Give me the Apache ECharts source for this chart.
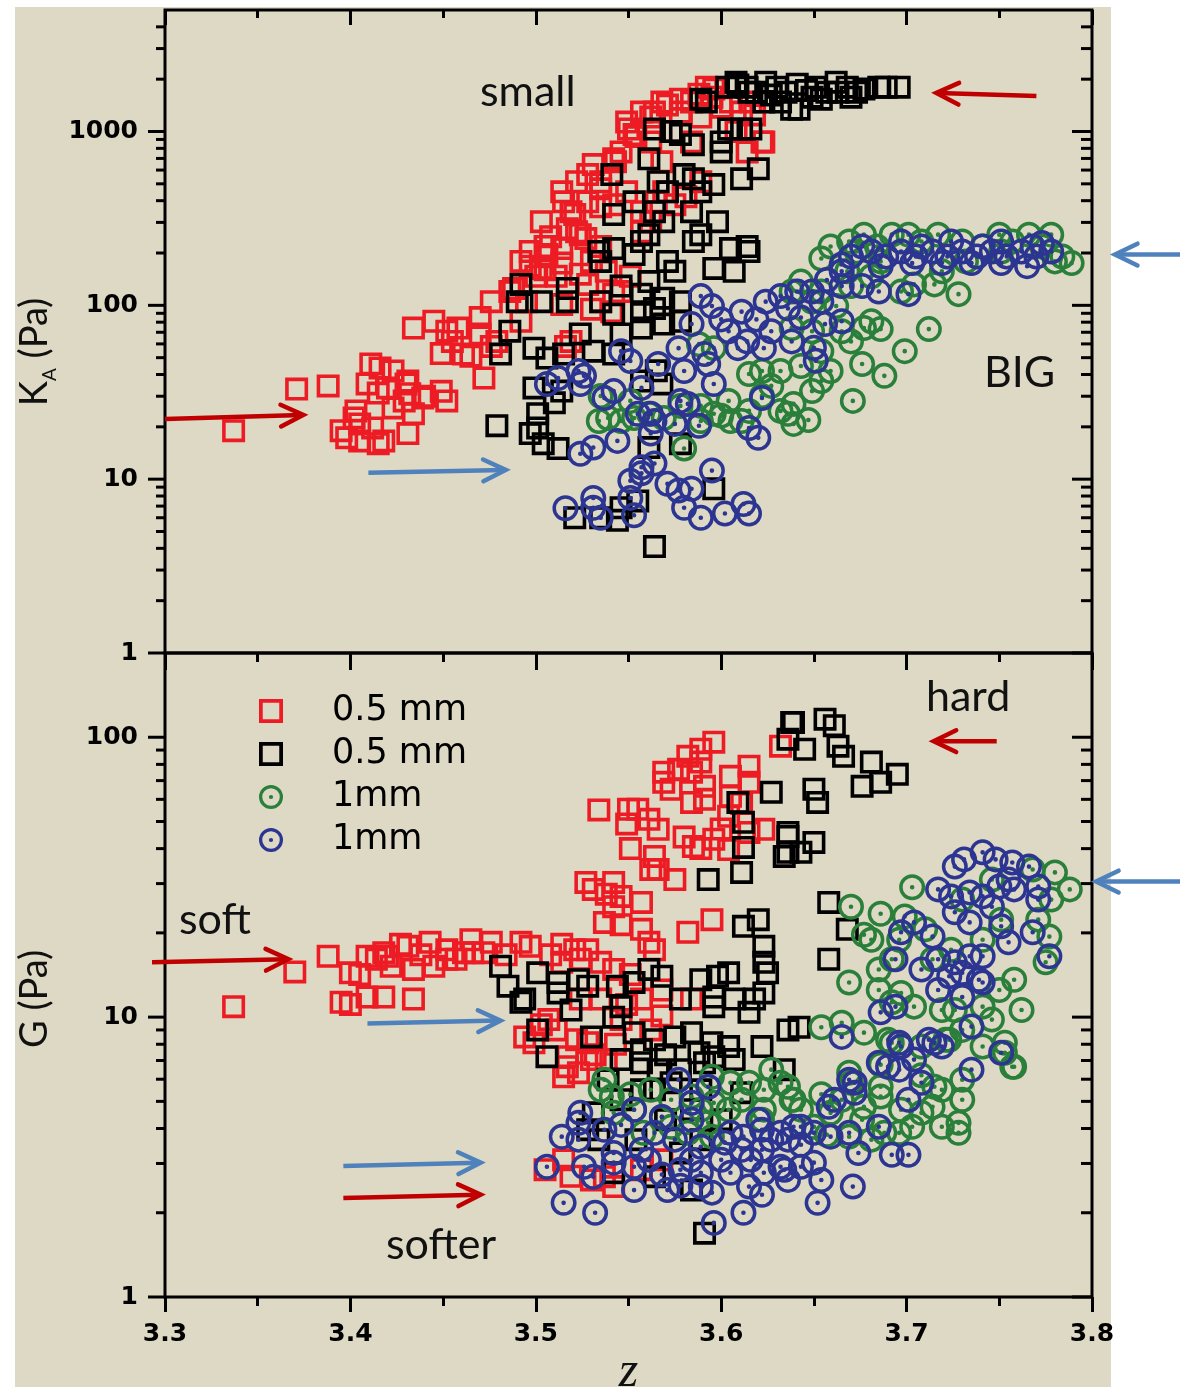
<!DOCTYPE html>
<html>
<head>
<meta charset="utf-8">
<script src="https://cdn.jsdelivr.net/npm/echarts@6/dist/echarts.min.js"></script>
<style>
  html, body { margin: 0; padding: 0; background: #ffffff; }
  #chart { width: 1180px; height: 1390px; }
</style>
</head>
<body>
<div id="chart"></div>
<script>
// ---- data: [z, value] pairs ----
const topRed = [
  [3.337,19.0],[3.371,33.0],[3.388,34.4],[3.398,17.3],[3.395,19.0],[3.402,22.5],[3.405,20.8],[3.409,35.3],[3.411,46],[3.415,31.3],
  [3.415,16.0],[3.418,16.6],[3.420,33.5],[3.423,41.9],[3.423,25.7],[3.429,28.2],[3.431,36.7],[3.431,18.3],[3.434,23.8],[3.434,74],
  [3.439,29.3],[3.445,81],[3.449,52.8],[3.452,28.2],[3.452,71],[3.458,74],[3.461,52.4],[3.470,68.5],[3.472,38.2],[3.476,105],
  [3.479,62],[3.470,85],[3.488,125],[3.492,179],[3.497,204],[3.503,163],[3.506,196],[3.514,212],[3.514,450],[3.515,394],
  [3.517,276],[3.521,333],[3.524,255],[3.524,151],[3.528,132],[3.528,394],[3.528,565],[3.531,645],[3.535,468],[3.542,696],
  [3.542,379],[3.542,116],[3.550,1034],[3.553,961],[3.564,1294],[3.569,450],[3.571,1420],[3.575,379],[3.578,1535],[3.588,1640],
  [3.596,1755],[3.618,1245],[3.623,871],[3.492,81],[3.495,105],[3.500,147],[3.505,160],[3.511,147],[3.508,248],[3.503,303],
  [3.519,346],[3.522,265],[3.530,179],[3.538,157],[3.535,105],[3.530,95],[3.519,62],[3.516,58],[3.535,514],[3.543,669],
  [3.546,763],[3.549,450],[3.557,346],[3.562,303],[3.565,394],[3.557,1294],[3.562,1211],[3.568,1476],[3.573,1000],[3.584,1476],
  [3.589,1211],[3.600,1381],[3.605,1476],[3.611,1294],[3.608,1000],[3.614,763],[3.584,871],[3.581,421],[3.589,514],[3.568,669],
  [3.551,147],[3.546,120],[3.541,92],[3.514,101],[3.465,51],[3.455,62],[3.449,32],[3.440,30],[3.432,31],[3.405,16.6],
  [3.412,19.7],[3.403,24.7],[3.416,43.6],[3.430,35.3],[3.476,58],[3.486,120],[3.505,218],[3.497,168],[3.514,175],[3.527,242],
  [3.535,218],[3.522,514],[3.535,369],[3.549,1133],[3.554,935],[3.578,1294],[3.595,1576],[3.616,1476],[3.622,871],[3.592,1800],
  [3.557,265],[3.562,871]
];
const topBlack = [
  [3.603,1800],[3.608,1923],[3.614,1800],[3.619,1684],[3.624,1923],[3.630,1800],[3.635,1684],[3.641,1870],[3.646,1720],[3.651,1800],
  [3.657,1684],[3.662,1923],[3.668,1800],[3.673,1684],[3.677,1755],[3.685,1800],[3.689,1800],[3.696,1800],[3.663,1684],[3.654,1535],
  [3.642,1345],[3.638,1345],[3.589,1535],[3.609,1850],[3.615,1684],[3.623,1476],[3.627,1620],[3.632,1476],[3.649,1576],[3.670,1576],
  [3.592,1476],[3.564,1034],[3.573,1000],[3.578,961],[3.585,840],[3.600,871],[3.604,1034],[3.611,1034],[3.616,1034],[3.600,763],
  [3.561,696],[3.541,565],[3.566,514],[3.571,450],[3.580,565],[3.585,534],[3.596,495],[3.611,534],[3.620,610],[3.553,394],
  [3.542,333],[3.564,346],[3.569,303],[3.598,303],[3.589,255],[3.585,233],[3.605,212],[3.615,204],[3.534,204],[3.542,212],
  [3.553,196],[3.561,255],[3.571,179],[3.575,157],[3.596,163],[3.607,157],[3.561,137],[3.557,116],[3.569,110],[3.578,105],
  [3.492,132],[3.490,105],[3.503,105],[3.517,125],[3.517,105],[3.542,89],[3.557,92],[3.564,96],[3.486,71],[3.481,52.4],
  [3.499,56.7],[3.506,49.7],[3.515,52.4],[3.524,68.5],[3.531,54.5],[3.546,68.5],[3.557,74],[3.569,78],[3.542,52.4],[3.499,33.5],
  [3.514,32.1],[3.479,20.3],[3.501,23.8],[3.501,19.7],[3.497,18.3],[3.504,16.0],[3.512,15.0],[3.561,15.2],[3.568,35.3],[3.578,16.0],
  [3.596,8.8],[3.555,7.5],[3.546,6.85],[3.521,6.0],[3.535,6.0],[3.544,5.8],[3.564,4.1],[3.535,179],[3.546,129],[3.535,105],
  [3.557,233],[3.584,346],[3.589,450],[3.614,218],[3.578,81],[3.565,42],[3.557,36.7],[3.510,27.5]
];
const topGreen = [
  [3.654,186],[3.669,233],[3.677,255],[3.692,255],[3.701,255],[3.717,255],[3.750,255],[3.766,255],[3.778,255],[3.789,175],
  [3.780,179],[3.728,116],[3.715,132],[3.704,132],[3.697,120],[3.659,218],[3.673,204],[3.684,218],[3.686,179],[3.708,233],
  [3.730,233],[3.741,218],[3.757,233],[3.773,218],[3.784,191],[3.751,204],[3.732,179],[3.719,157],[3.681,147],[3.670,129],
  [3.654,120],[3.643,137],[3.638,120],[3.649,105],[3.662,99],[3.668,157],[3.712,73],[3.699,54.5],[3.686,73],[3.677,74],
  [3.676,46],[3.688,39.3],[3.671,28.2],[3.654,36.7],[3.647,21.9],[3.639,27.1],[3.636,23.8],[3.588,59.8],[3.596,56.7],[3.615,40.3],
  [3.632,41.9],[3.604,28.2],[3.615,24.7],[3.632,24.7],[3.639,20.8],[3.596,23.8],[3.638,74],[3.534,21.6],[3.539,22.5],[3.546,21.6],
  [3.553,22.5],[3.561,23.8],[3.569,22.5],[3.580,15.0],[3.535,30.1],[3.551,28.2],[3.589,26.4],[3.600,23.2],[3.611,21.6],[3.622,41.9],
  [3.643,44.8],[3.654,54.5],[3.665,71],[3.681,81],[3.649,71],[3.627,34.4],[3.622,30.1],[3.670,62],[3.659,41.9],[3.649,32.1],
  [3.589,21.6],[3.605,21.6],[3.578,26.4]
];
const topBlue = [
  [3.670,191],[3.681,204],[3.689,191],[3.697,204],[3.705,191],[3.714,204],[3.722,191],[3.730,204],[3.738,191],[3.746,204],
  [3.754,191],[3.762,204],[3.770,191],[3.778,204],[3.686,168],[3.703,175],[3.719,175],[3.735,175],[3.751,175],[3.765,168],
  [3.697,233],[3.724,233],[3.751,233],[3.773,228],[3.676,218],[3.708,218],[3.741,218],[3.768,218],[3.665,157],[3.657,140],
  [3.649,120],[3.641,120],[3.632,113],[3.624,105],[3.665,129],[3.676,129],[3.654,105],[3.665,172],[3.650,57],[3.656,78],
  [3.665,81],[3.643,85],[3.636,96],[3.701,116],[3.685,120],[3.506,35.3],[3.512,38.2],[3.523,41.9],[3.524,35.3],[3.526,39.3],
  [3.524,14.0],[3.531,15.2],[3.544,16.6],[3.537,29.3],[3.542,32.1],[3.557,33.5],[3.555,23.8],[3.562,23.8],[3.564,21.6],[3.562,18.3],
  [3.575,20.8],[3.588,20.3],[3.582,27.1],[3.578,28.2],[3.596,35.3],[3.622,29.3],[3.615,19.7],[3.620,17.3],[3.546,54.5],[3.551,47.8],
  [3.566,46],[3.577,56.7],[3.580,41.9],[3.591,52.4],[3.593,46],[3.609,56.7],[3.604,71],[3.623,56.7],[3.584,78],[3.564,12.3],
  [3.557,11.7],[3.551,9.8],[3.557,10.8],[3.571,9.4],[3.577,8.6],[3.584,8.8],[3.595,11.2],[3.580,6.85],[3.589,6.0],[3.602,6.35],
  [3.612,7.2],[3.615,6.35],[3.531,7.8],[3.531,6.85],[3.535,6.0],[3.516,6.8],[3.551,7.8],[3.553,6.2],[3.611,92],[3.619,83],
  [3.600,83],[3.627,71],[3.614,62],[3.638,62],[3.589,113],[3.595,99],[3.651,48]
];
const botRed = [
  [3.337,10.9],[3.370,14.5],[3.388,16.5],[3.400,14.4],[3.409,16.5],[3.418,17.0],[3.395,11.3],[3.409,11.8],[3.400,11.1],[3.420,16.5],
  [3.431,17.9],[3.443,18.5],[3.452,17.4],[3.422,15.2],[3.434,14.8],[3.445,15.2],[3.452,16.1],[3.476,18.5],[3.492,18.5],[3.497,17.9],
  [3.472,17.0],[3.466,17.0],[3.461,17.0],[3.521,17.4],[3.528,17.4],[3.524,16.1],[3.514,15.7],[3.535,15.7],[3.542,14.8],[3.434,11.6],
  [3.418,11.8],[3.595,22.3],[3.582,20.1],[3.561,18.5],[3.557,20.6],[3.564,17.4],[3.537,21.8],[3.531,28.6],[3.542,30.3],[3.546,27.0],
  [3.557,25.7],[3.542,24.8],[3.566,33.7],[3.575,31.0],[3.564,37.5],[3.550,55.3],[3.561,50.9],[3.566,46.9],[3.555,55.3],[3.569,69],
  [3.569,75],[3.582,85.5],[3.589,90.6],[3.596,96],[3.589,81.5],[3.584,75],[3.591,66.8],[3.584,58.5],[3.605,72.5],[3.615,78.8],
  [3.615,69],[3.604,52.2],[3.615,45.7],[3.623,46.9],[3.585,40.7],[3.596,43.2],[3.604,39.7],[3.632,92.9],[3.605,61.5],[3.534,55],
  [3.549,49],[3.551,40],[3.562,33.7],[3.527,30.3],[3.538,27.5],[3.546,21.4],[3.577,76.8],[3.573,65.2],[3.591,60],[3.611,58],
  [3.600,47],[3.589,40],[3.580,44],[3.484,16.7],[3.508,16.7],[3.514,18.2],[3.551,14.2],[3.465,18.9],[3.457,16.1],[3.438,16.7],
  [3.427,18.2],[3.414,16.1],[3.405,14.2],[3.494,8.5],[3.499,8.1],[3.517,6.65],[3.523,6.33],[3.515,6.12],[3.517,7.22],[3.530,7.05],
  [3.528,8.1],[3.515,3.09],[3.537,2.69],[3.542,2.48],[3.503,9.4],[3.511,9.0],[3.532,7.34],[3.538,7.05],[3.543,8.0],[3.507,9.8],
  [3.522,8.3],[3.546,9.8],[3.557,11.6],[3.568,12.5],[3.535,11.6],[3.524,11.6],[3.519,2.7],[3.530,2.62],[3.557,2.85],[3.568,3.09],
  [3.549,11.1],[3.568,10.1],[3.584,11.6],[3.562,9.0],[3.505,2.85]
];
const botBlack = [
  [3.639,113],[3.656,116],[3.661,110],[3.645,90.6],[3.663,92.9],[3.666,85.5],[3.681,81.5],[3.695,73.7],[3.686,69],[3.676,66.8],
  [3.650,65.2],[3.652,58.5],[3.636,45.7],[3.650,42.1],[3.643,38.8],[3.634,37.5],[3.658,25.7],[3.668,20.6],[3.658,16.1],[3.642,9.2],
  [3.634,6.49],[3.638,113],[3.636,98.4],[3.627,63.6],[3.609,58.5],[3.612,49.7],[3.612,40.4],[3.636,44.2],[3.636,38.8],[3.611,32.9],
  [3.593,31.0],[3.620,22.3],[3.612,21.1],[3.623,17.9],[3.623,15.7],[3.625,14.4],[3.623,12.2],[3.598,14.0],[3.589,13.6],[3.604,14.4],
  [3.561,14.8],[3.568,14.0],[3.553,13.3],[3.544,12.9],[3.523,13.6],[3.512,13.3],[3.501,14.4],[3.481,15.2],[3.485,12.9],[3.494,11.6],
  [3.512,12.2],[3.528,12.9],[3.546,10.9],[3.578,11.6],[3.596,11.8],[3.607,11.6],[3.618,11.6],[3.492,11.3],[3.501,9.0],[3.506,7.22],
  [3.530,8.5],[3.519,10.6],[3.542,10.0],[3.553,8.8],[3.564,8.3],[3.575,8.5],[3.584,8.8],[3.595,8.1],[3.604,7.85],[3.622,7.85],
  [3.636,9.0],[3.615,10.4],[3.596,10.9],[3.546,7.05],[3.557,6.87],[3.566,6.49],[3.573,5.83],[3.564,5.50],[3.557,5.50],[3.539,5.97],
  [3.546,5.07],[3.588,7.46],[3.591,6.87],[3.596,7.22],[3.607,7.05],[3.578,3.27],[3.584,2.41],[3.591,1.69],[3.564,2.69],[3.542,2.78],
  [3.534,3.65],[3.528,3.96],[3.531,4.55],[3.557,7.65],[3.570,7.34],[3.578,6.49],[3.589,5.50],[3.584,4.67],[3.600,4.30],[3.570,4.30],
  [3.554,3.65],[3.589,3.65],[3.611,5.37]
];
const botGreen = [
  [3.703,29.1],[3.670,24.8],[3.677,19.7],[3.780,32.9],[3.788,28.6],[3.771,22.3],[3.777,19.4],[3.775,15.7],[3.751,22.3],[3.758,13.6],
  [3.750,12.5],[3.741,10.9],[3.719,10.6],[3.704,10.9],[3.692,11.3],[3.669,13.3],[3.685,14.8],[3.696,18.9],[3.699,22.9],[3.710,20.6],
  [3.685,12.5],[3.654,9.2],[3.665,9.55],[3.677,8.8],[3.692,8.1],[3.708,7.85],[3.721,8.3],[3.741,7.85],[3.753,7.46],[3.758,6.65],
  [3.726,10.6],[3.690,8.3],[3.723,8.3],[3.753,8.1],[3.757,6.65],[3.669,6.33],[3.670,5.83],[3.686,5.64],[3.715,5.64],[3.714,4.78],
  [3.708,4.55],[3.728,4.19],[3.728,3.86],[3.719,4.06],[3.703,4.06],[3.696,3.86],[3.688,3.86],[3.686,5.20],[3.677,4.78],[3.639,5.07],
  [3.636,5.64],[3.669,3.74],[3.659,4.55],[3.650,4.06],[3.537,5.97],[3.541,5.20],[3.542,4.55],[3.553,4.67],[3.568,4.40],[3.573,4.06],
  [3.584,5.20],[3.595,6.12],[3.605,5.83],[3.615,5.83],[3.623,5.50],[3.632,5.83],[3.638,5.07],[3.596,4.94],[3.604,4.67],[3.593,4.19],
  [3.582,3.86],[3.558,3.86],[3.595,3.74],[3.623,4.67],[3.643,4.67],[3.654,5.3],[3.665,5.07],[3.676,4.3],[3.697,4.67],[3.622,4.3],
  [3.611,5.07],[3.627,6.49],[3.686,6.76],[3.708,6.2],[3.719,5.5],[3.730,5.07],[3.730,5.97],[3.746,9.8],[3.730,9.0],[3.714,16.1],
  [3.724,17.4],[3.730,26.3],[3.746,31],[3.768,33.7],[3.778,26.3],[3.741,18.9],[3.692,16.1],[3.681,18.9],[3.686,23.4],[3.697,12.2],
  [3.762,10.6],[3.657,3.8],[3.681,3.65],[3.551,5.3],[3.535,5.5],[3.562,5.5],[3.573,5.07],[3.589,4.67]
];
const botBlue = [
  [3.741,38.8],[3.731,36.6],[3.726,34.5],[3.748,36.6],[3.757,35.7],[3.766,34.5],[3.755,31.0],[3.758,28.6],[3.771,29.3],[3.771,26.3],
  [3.750,29.3],[3.746,24.8],[3.741,27.0],[3.734,27.9],[3.724,27.0],[3.717,28.6],[3.726,23.7],[3.734,21.8],[3.751,21.1],[3.755,18.5],
  [3.768,20.1],[3.777,16.5],[3.704,21.8],[3.697,20.1],[3.714,19.4],[3.694,16.1],[3.708,14.8],[3.717,16.1],[3.726,15.7],[3.734,16.5],
  [3.741,16.5],[3.739,13.6],[3.730,14.4],[3.723,14.0],[3.717,12.5],[3.730,11.8],[3.741,13.3],[3.735,9.25],[3.751,7.46],[3.735,6.49],
  [3.715,8.1],[3.719,7.85],[3.704,7.05],[3.696,6.49],[3.685,6.87],[3.690,6.65],[3.694,10.9],[3.686,10.4],[3.665,8.5],[3.669,5.97],
  [3.697,7.85],[3.696,8.1],[3.712,8.3],[3.708,5.83],[3.701,5.07],[3.672,5.83],[3.672,5.37],[3.661,5.07],[3.658,4.78],[3.685,4.06],
  [3.643,4.06],[3.650,3.86],[3.659,3.74],[3.669,3.86],[3.674,3.27],[3.692,3.22],[3.701,3.22],[3.636,3.65],[3.634,2.85],[3.643,2.92],
  [3.650,3.02],[3.671,2.48],[3.652,2.17],[3.577,5.97],[3.593,5.64],[3.584,4.94],[3.584,4.30],[3.553,4.67],[3.568,4.40],[3.524,4.55],
  [3.523,4.19],[3.514,3.74],[3.523,3.65],[3.537,3.96],[3.506,2.92],[3.526,2.92],[3.531,2.69],[3.542,3.02],[3.553,2.41],[3.571,2.41],
  [3.595,2.36],[3.615,2.48],[3.632,2.92],[3.636,2.62],[3.623,2.78],[3.605,2.78],[3.589,2.78],[3.578,2.85],[3.561,3.09],[3.553,2.92],
  [3.542,3.27],[3.564,3.86],[3.575,3.65],[3.589,3.44],[3.602,3.56],[3.612,3.74],[3.622,3.96],[3.632,3.86],[3.639,4.06],[3.515,2.17],
  [3.532,2.0],[3.596,1.84],[3.612,2.0],[3.620,4.30],[3.605,3.86],[3.546,4.12],[3.557,3.36],[3.568,2.74],[3.584,3.09],[3.600,3.09],
  [3.611,3.36],[3.622,3.36],[3.627,3.65],[3.616,3.09],[3.643,3.5],[3.589,2.48],[3.578,2.5],[3.654,2.62],[3.622,2.32]
];

// arrows: [z start, value start, z end (tip), value end, colour index]
const arrowsTop = [
  [3.770, 1600, 3.716, 1665, 0],
  [3.849, 196, 3.8124, 196, 1],
  [3.300, 22.2, 3.3746, 23.4, 0],
  [3.4097, 10.9, 3.4838, 11.3, 1]
];
const arrowsBottom = [
  [3.7486, 96.8, 3.7146, 96.8, 0],
  [3.8486, 30.5, 3.8022, 30.5, 1],
  [3.293, 15.7, 3.3665, 16.1, 0],
  [3.4092, 9.48, 3.481, 9.72, 1],
  [3.3962, 2.94, 3.4703, 3.02, 1],
  [3.3962, 2.26, 3.4703, 2.32, 0]
];

// axis ticks
const zMin = 3.3, zMax = 3.8, zStep = 0.1;
const kaMax = 5000, gMax = 200;
const kaMajor = [1, 10, 100, 1000];
const kaMinor = [2,3,4,5,6,7,8,9, 20,30,40,50,60,70,80,90, 200,300,400,500,600,700,800,900, 2000,3000,4000];
const gMajor = [1, 10, 100];
const gMinor = [2,3,4,5,6,7,8,9, 20,30,40,50,60,70,80,90];

const setNames = ['0.5 mm red', '0.5 mm black', '1mm green', '1mm blue'];
const legendLabels = ['0.5 mm', '0.5 mm', '1mm', '1mm'];
const setColors = ['#ED1C24', '#000000', '#2A7F3B', '#2C3591'];
const arrowColors = ['#C00000', '#4F81BD'];

// ---- drawing ----
const SQUARE = 'path://M0,0L23,0L23,23L0,23ZM3.6,3.6L3.6,19.4L19.4,19.4L19.4,3.6Z';
const RING_DOT = 'path://M0,13A13,13 0 1,0 26,13A13,13 0 1,0 0,13ZM3.5,13A9.5,9.5 0 1,1 22.5,13A9.5,9.5 0 1,1 3.5,13ZM10.7,13A2.3,2.3 0 1,0 15.3,13A2.3,2.3 0 1,0 10.7,13Z';

const chart = echarts.init(document.getElementById('chart'), null, { renderer: 'canvas' });

function scatterSeries(idx, data, xi, yi) {
  const square = idx < 2;
  return {
    type: 'scatter',
    name: setNames[idx],
    data: data,
    xAxisIndex: xi,
    yAxisIndex: yi,
    symbol: square ? SQUARE : RING_DOT,
    symbolSize: square ? 23 : 26,
    symbolKeepAspect: true,
    itemStyle: { color: setColors[idx], opacity: 1 },
    emphasis: { disabled: true },
    silent: true,
    z: 3
  };
}

function tickSeries(xi, yi, major, minor) {
  const data = major.map(v => [zMin, v, 1]).concat(minor.map(v => [zMin, v, 0]));
  return {
    type: 'custom',
    xAxisIndex: xi,
    yAxisIndex: yi,
    silent: true,
    z: 6,
    data: data,
    encode: { x: 0, y: 1 },
    renderItem(params, api) {
      const cs = params.coordSys;
      const y = api.coord([zMin, api.value(1)])[1];
      const isMajor = api.value(2) === 1;
      const l = isMajor ? 17 : 9, r = isMajor ? 20 : 11;
      const st = { stroke: '#000', lineWidth: 3 };
      return {
        type: 'group',
        children: [
          { type: 'line', shape: { x1: cs.x - l, y1: y, x2: cs.x, y2: y }, style: st },
          { type: 'line', shape: { x1: cs.x + cs.width - r, y1: y, x2: cs.x + cs.width, y2: y }, style: st }
        ]
      };
    }
  };
}

function arrowSeries(xi, yi, data) {
  return {
    type: 'custom',
    xAxisIndex: xi,
    yAxisIndex: yi,
    silent: true,
    clip: false,
    z: 8,
    data: data,
    encode: { x: [0, 2], y: [1, 3] },
    renderItem(params, api) {
      const p1 = api.coord([api.value(0), api.value(1)]);
      const p2 = api.coord([api.value(2), api.value(3)]);
      const color = arrowColors[api.value(4)];
      const ang = Math.atan2(p2[1] - p1[1], p2[0] - p1[0]);
      const L = 25, a = 0.45;
      const h1 = [p2[0] - L * Math.cos(ang - a), p2[1] - L * Math.sin(ang - a)];
      const h2 = [p2[0] - L * Math.cos(ang + a), p2[1] - L * Math.sin(ang + a)];
      return {
        type: 'group',
        children: [
          { type: 'line', shape: { x1: p1[0], y1: p1[1], x2: p2[0] - 2 * Math.cos(ang), y2: p2[1] - 2 * Math.sin(ang) },
            style: { stroke: color, lineWidth: 4.5 } },
          { type: 'polyline', shape: { points: [h1, p2, h2] },
            style: { stroke: color, lineWidth: 4.5, fill: null, lineCap: 'round', lineJoin: 'miter' } }
        ]
      };
    }
  };
}

function decadeLabel(v) {
  const l = Math.log10(v);
  return Math.abs(l - Math.round(l)) < 1e-6 ? String(Math.round(v)) : '';
}

const tickLabelStyle = { fontFamily: 'DejaVu Sans', fontWeight: 'bold', fontSize: 25, color: '#000' };
const black3 = { color: '#000', width: 3 };

function xAxisCfg(grid, position, opts) {
  return Object.assign({
    gridIndex: grid, type: 'value', min: zMin, max: zMax, interval: zStep, position: position,
    axisLine: { show: false },
    axisTick: { show: true, inside: false, length: 15, lineStyle: black3 },
    minorTick: { show: true, splitNumber: 2, length: 9, lineStyle: black3 },
    axisLabel: { show: false },
    splitLine: { show: false }
  }, opts);
}

const option = {
  backgroundColor: '#ffffff',
  animation: false,
  graphic: [
    { type: 'rect', z: -100, silent: true, shape: { x: 15, y: 7, width: 1096, height: 1380 }, style: { fill: '#DDD9C4' } },
    { type: 'text', x: 480, y: 92, silent: true, style: { text: 'small', font: '43px Lato', fill: '#111', verticalAlign: 'middle' } },
    { type: 'text', x: 984, y: 373, silent: true, style: { text: 'BIG', font: '43px Lato', fill: '#111', verticalAlign: 'middle' } },
    { type: 'text', x: 926, y: 697, silent: true, style: { text: 'hard', font: '43px Lato', fill: '#111', verticalAlign: 'middle' } },
    { type: 'text', x: 179, y: 920, silent: true, style: { text: 'soft', font: '43px Lato', fill: '#111', verticalAlign: 'middle' } },
    { type: 'text', x: 386, y: 1245, silent: true, style: { text: 'softer', font: '43px Lato', fill: '#111', verticalAlign: 'middle' } },
    { type: 'text', x: 35, y: 352, rotation: Math.PI / 2, silent: true,
      style: { text: '{k|K}{s|A}{k| (Pa)}', align: 'center', verticalAlign: 'middle', fill: '#111',
        rich: { k: { fontFamily: 'Lato', fontSize: 38, fill: '#111' },
                s: { fontFamily: 'Lato', fontSize: 19, fill: '#111', padding: [30, 0, 0, 0] } } } },
    { type: 'text', x: 35, y: 999, rotation: Math.PI / 2, silent: true,
      style: { text: 'G (Pa)', font: '38px Lato', align: 'center', verticalAlign: 'middle', fill: '#111' } }
  ],
  legend: {
    orient: 'vertical', left: 259, top: 693, padding: 0,
    itemWidth: 24, itemHeight: 24, itemGap: 7,
    selectedMode: false,
    data: setNames,
    formatter: name => legendLabels[setNames.indexOf(name)],
    textStyle: { fontFamily: 'DejaVu Sans', fontSize: 35, color: '#000', lineHeight: 36, padding: [0, 0, 0, 44] }
  },
  grid: [
    { left: 165, top: 10, width: 927, height: 643, outerBoundsMode: 'none', containLabel: false,
      show: true, borderColor: '#000', borderWidth: 3, backgroundColor: 'transparent' },
    { left: 165, top: 653, width: 927, height: 644, outerBoundsMode: 'none', containLabel: false,
      show: true, borderColor: '#000', borderWidth: 3, backgroundColor: 'transparent' }
  ],
  xAxis: [
    xAxisCfg(0, 'bottom', { axisTick: { show: true, inside: false, length: 17, lineStyle: black3 } }),
    xAxisCfg(0, 'top', { axisTick: { show: true, inside: true, length: 15, lineStyle: black3 },
                         minorTick: { show: true, splitNumber: 2, length: 8, lineStyle: black3 } }),
    xAxisCfg(1, 'bottom', {
      axisLabel: Object.assign({ show: true, margin: 25 }, tickLabelStyle),
      name: 'z', nameLocation: 'middle', nameGap: 47,
      nameTextStyle: { fontFamily: 'Liberation Serif', fontStyle: 'italic', fontSize: 50, color: '#111' }
    })
  ],
  yAxis: [
    { gridIndex: 0, type: 'log', logBase: 10, min: 1, max: kaMax, position: 'left',
      axisLine: { show: false }, axisTick: { show: false }, splitLine: { show: false },
      axisLabel: Object.assign({ margin: 27, formatter: decadeLabel }, tickLabelStyle) },
    { gridIndex: 1, type: 'log', logBase: 10, min: 1, max: gMax, position: 'left',
      axisLine: { show: false }, axisTick: { show: false }, splitLine: { show: false },
      axisLabel: Object.assign({ margin: 27, formatter: decadeLabel }, tickLabelStyle) }
  ],
  series: [
    scatterSeries(0, topRed, 0, 0),
    scatterSeries(1, topBlack, 0, 0),
    scatterSeries(2, topGreen, 0, 0),
    scatterSeries(3, topBlue, 0, 0),
    scatterSeries(0, botRed, 2, 1),
    scatterSeries(1, botBlack, 2, 1),
    scatterSeries(2, botGreen, 2, 1),
    scatterSeries(3, botBlue, 2, 1),
    tickSeries(0, 0, kaMajor, kaMinor),
    tickSeries(2, 1, gMajor, gMinor),
    arrowSeries(0, 0, arrowsTop),
    arrowSeries(2, 1, arrowsBottom)
  ]
};

chart.setOption(option);
</script>
</body>
</html>
